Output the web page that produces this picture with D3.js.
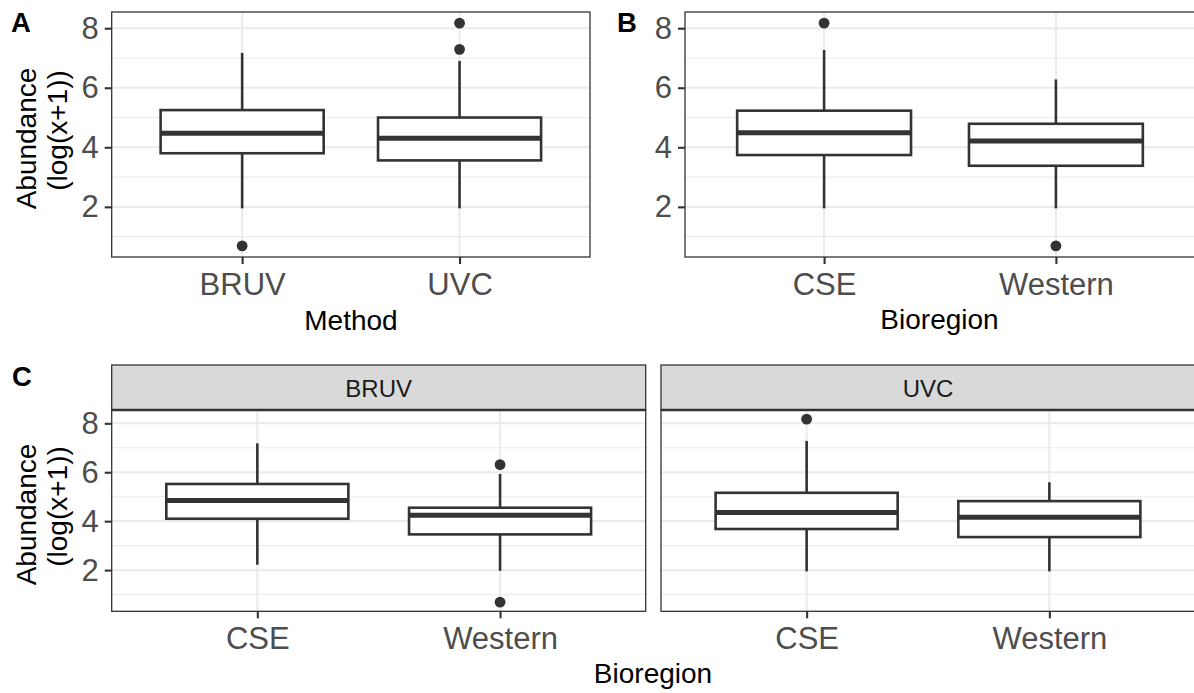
<!DOCTYPE html>
<html><head><meta charset="utf-8">
<script src="https://cdn.jsdelivr.net/npm/d3@7"></script>
<style>body{margin:0;background:#fff;} svg{display:block;}</style>
</head><body>
<svg id="chart" width="1194" height="693"></svg>
<script>
// ---------- DATA (box statistics) ----------
// Panel A: by Method
const methodCats     = ["BRUV", "UVC"];
const methodLower    = [1.95, 1.95];
const methodQ1       = [3.80, 3.56];
const methodMedian   = [4.47, 4.30];
const methodQ3       = [5.25, 5.00];
const methodUpper    = [7.17, 6.90];
const methodOutliers = [[0.69], [8.17, 7.29]];

// Panel B: by Bioregion
const bioCats     = ["CSE", "Western"];
const bioLower    = [1.95, 1.95];
const bioQ1       = [3.74, 3.38];
const bioMedian   = [4.49, 4.21];
const bioQ3       = [5.23, 4.79];
const bioUpper    = [7.27, 6.28];
const bioOutliers = [[8.17], [0.69]];

// Panel C: Bioregion faceted by Method
const facetNames = ["BRUV", "UVC"];
const bruvLower    = [2.22, 1.97];
const bruvQ1       = [4.10, 3.46];
const bruvMedian   = [4.84, 4.24];
const bruvQ3       = [5.52, 4.55];
const bruvUpper    = [7.18, 5.93];
const bruvOutliers = [[], [6.31, 0.69]];

const uvcLower    = [1.95, 1.95];
const uvcQ1       = [3.68, 3.35];
const uvcMedian   = [4.35, 4.16];
const uvcQ3       = [5.16, 4.82];
const uvcUpper    = [7.28, 5.59];
const uvcOutliers = [[8.17], []];

const yMajorTicks = [2, 4, 6, 8];
const yMinorTicks = [1, 3, 5, 7];
const yTitleLines = ["Abundance", "(log(x+1))"];

// ---------- helpers ----------
const FONT = "'Liberation Sans', Arial, Helvetica, sans-serif";
const svg = d3.select("#chart");

function makeStats(cats, lo, q1, med, q3, up, out) {
  return cats.map((c, i) => ({cat: c, lo: lo[i], q1: q1[i], med: med[i], q3: q3[i], up: up[i], out: out[i]}));
}

const allVals = [].concat(
  methodLower, methodUpper, methodOutliers.flat(),
  bioLower, bioUpper, bioOutliers.flat(),
  bruvLower, bruvUpper, bruvOutliers.flat(),
  uvcLower, uvcUpper, uvcOutliers.flat());
const ext = d3.extent(allVals);
const pad = (ext[1] - ext[0]) * 0.05;
const yDomain = [ext[0] - pad, ext[1] + pad];

function drawPanel(p) {
  const g = svg.append("g");
  const x = d3.scalePoint().domain(p.stats.map(d => d.cat)).range([p.x0, p.x1]).padding(0.6);
  const y = d3.scaleLinear().domain(yDomain).range([p.y1, p.y0]);
  const bw = x.step() * 0.75;

  g.append("rect").attr("x", p.x0).attr("y", p.y0).attr("width", p.x1 - p.x0).attr("height", p.y1 - p.y0)
    .attr("fill", "#fff");
  g.selectAll(".minor").data(yMinorTicks).join("line")
    .attr("x1", p.x0).attr("x2", p.x1).attr("y1", d => y(d)).attr("y2", d => y(d))
    .attr("stroke", "#ebebeb").attr("stroke-width", 1.1);
  g.selectAll(".major").data(yMajorTicks).join("line")
    .attr("x1", p.x0).attr("x2", p.x1).attr("y1", d => y(d)).attr("y2", d => y(d))
    .attr("stroke", "#ebebeb").attr("stroke-width", 2.1);
  g.selectAll(".vmajor").data(x.domain()).join("line")
    .attr("x1", d => x(d)).attr("x2", d => x(d)).attr("y1", p.y0).attr("y2", p.y1)
    .attr("stroke", "#ebebeb").attr("stroke-width", 2.1);

  const col = "#333333";
  const bx = g.selectAll(".box").data(p.stats).join("g");
  bx.append("line").attr("x1", d => x(d.cat)).attr("x2", d => x(d.cat))
    .attr("y1", d => y(d.q3)).attr("y2", d => y(d.up)).attr("stroke", col).attr("stroke-width", 2.6);
  bx.append("line").attr("x1", d => x(d.cat)).attr("x2", d => x(d.cat))
    .attr("y1", d => y(d.q1)).attr("y2", d => y(d.lo)).attr("stroke", col).attr("stroke-width", 2.6);
  bx.append("rect").attr("x", d => x(d.cat) - bw / 2).attr("width", bw)
    .attr("y", d => y(d.q3)).attr("height", d => y(d.q1) - y(d.q3))
    .attr("fill", "#fff").attr("stroke", col).attr("stroke-width", 2.6);
  bx.append("line").attr("x1", d => x(d.cat) - bw / 2).attr("x2", d => x(d.cat) + bw / 2)
    .attr("y1", d => y(d.med)).attr("y2", d => y(d.med)).attr("stroke", col).attr("stroke-width", 5);
  bx.each(function(d) {
    d3.select(this).selectAll("circle").data(d.out).join("circle")
      .attr("cx", x(d.cat)).attr("cy", v => y(v)).attr("r", 5.4).attr("fill", col);
  });

  g.append("rect").attr("x", p.x0).attr("y", p.y0).attr("width", p.x1 - p.x0).attr("height", p.y1 - p.y0)
    .attr("fill", "none").attr("stroke", "#333333").attr("stroke-width", 1.3);

  if (p.strip) {
    g.append("rect").attr("x", p.x0).attr("y", p.stripY0).attr("width", p.x1 - p.x0).attr("height", p.y0 - p.stripY0)
      .attr("fill", "#d9d9d9").attr("stroke", "#333333").attr("stroke-width", 1.3);
    g.append("line").attr("x1", p.x0).attr("x2", p.x1).attr("y1", p.y0).attr("y2", p.y0)
      .attr("stroke", "#333333").attr("stroke-width", 2.4);
    g.append("text").attr("x", (p.x0 + Math.min(p.x1, 1195)) / 2).attr("y", p.stripY0 + 32)
      .attr("text-anchor", "middle").attr("font-family", FONT).attr("font-size", 24)
      .attr("fill", "#1a1a1a").text(p.strip);
  }

  const xa = g.append("g").attr("transform", `translate(0,${p.y1})`)
    .call(d3.axisBottom(x).tickSize(7).tickPadding(8.5));
  xa.select(".domain").remove();
  xa.selectAll(".tick line").attr("stroke", "#333333").attr("stroke-width", 2.1);
  xa.selectAll(".tick text").attr("font-family", FONT).attr("font-size", 31).attr("fill", "#4d4d4d");

  if (p.yAxis) {
    const ya = g.append("g").attr("transform", `translate(${p.x0},0)`)
      .call(d3.axisLeft(y).tickValues(yMajorTicks).tickSize(7).tickPadding(6));
    ya.select(".domain").remove();
    ya.selectAll(".tick line").attr("stroke", "#333333").attr("stroke-width", 2.1);
    ya.selectAll(".tick text").attr("font-family", FONT).attr("font-size", 31).attr("fill", "#4d4d4d");
  }
  return {x, y};
}

function yTitle(cx, cy) {
  const t = svg.append("g").attr("transform", `translate(${cx},${cy}) rotate(-90)`);
  yTitleLines.forEach((s, i) => {
    t.append("text").attr("x", i === 0 ? -4 : 4).attr("y", i * 31)
      .attr("text-anchor", "middle").attr("font-family", FONT).attr("font-size", 28)
      .attr("fill", "#000").text(s);
  });
}
function label(txt, x, y, size, weight, anchor) {
  svg.append("text").attr("x", x).attr("y", y).attr("text-anchor", anchor || "middle")
    .attr("font-family", FONT).attr("font-size", size).attr("font-weight", weight || "normal")
    .attr("fill", "#000").text(txt);
}

// ---------- Panel A ----------
drawPanel({x0: 111.7, x1: 590, y0: 12, y1: 257, yAxis: true,
  stats: makeStats(methodCats, methodLower, methodQ1, methodMedian, methodQ3, methodUpper, methodOutliers)});
yTitle(36, 134.5);
label("Method", 351, 330, 28);
label("A", 11, 32, 27.5, "bold", "start");

// ---------- Panel B ----------
drawPanel({x0: 685, x1: 1195, y0: 12, y1: 257, yAxis: true,
  stats: makeStats(bioCats, bioLower, bioQ1, bioMedian, bioQ3, bioUpper, bioOutliers)});
label("Bioregion", 939.5, 329, 28);
label("B", 617, 32, 27.5, "bold", "start");

// ---------- Panel C ----------
drawPanel({x0: 111.7, x1: 645.7, y0: 410, y1: 611.3, yAxis: true, strip: facetNames[0], stripY0: 365,
  stats: makeStats(bioCats, bruvLower, bruvQ1, bruvMedian, bruvQ3, bruvUpper, bruvOutliers)});
drawPanel({x0: 661, x1: 1195, y0: 410, y1: 611.3, yAxis: false, strip: facetNames[1], stripY0: 365,
  stats: makeStats(bioCats, uvcLower, uvcQ1, uvcMedian, uvcQ3, uvcUpper, uvcOutliers)});
yTitle(36, 510.5);
label("Bioregion", 653, 683, 28);
label("C", 12, 385.5, 27.5, "bold", "start");
</script>
</body></html>
